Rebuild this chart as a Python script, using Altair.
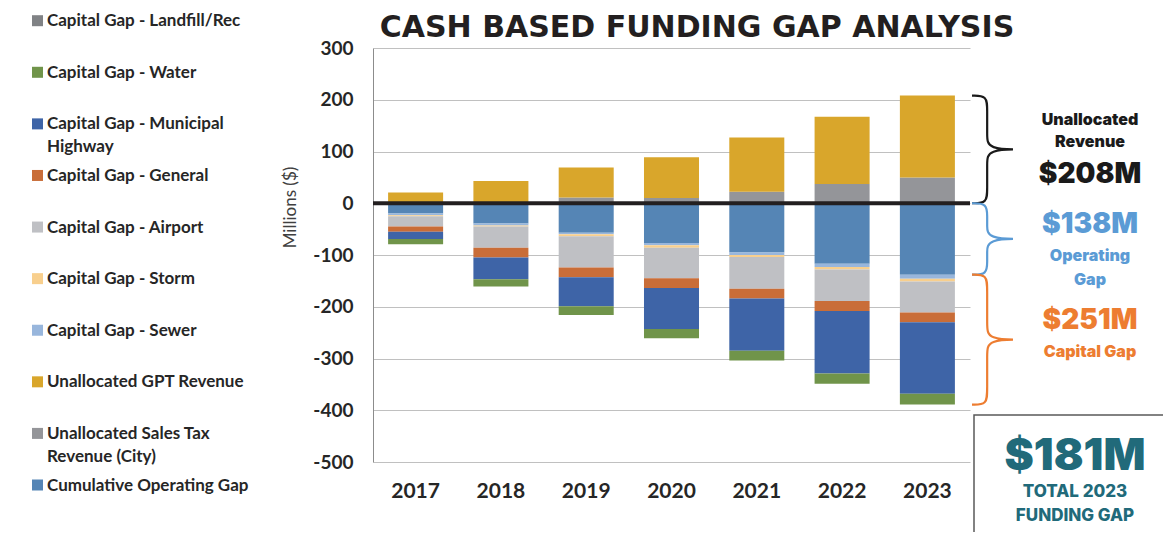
import altair as alt
import pandas as pd

years = ["2017", "2018", "2019", "2020", "2021", "2022", "2023"]

# Millions of dollars
sales_tax = [0, 0, 11, 10, 22, 37, 50]
gpt = [21, 43, 58, 79, 105, 130, 158]
operating = [-20, -39, -57, -77, -95, -117, -138]
sewer = [-3, -4, -3, -4, -5, -6, -8]
storm = [-2, -2, -4, -5, -4, -5, -5]
airport = [-20, -41, -60, -59, -61, -61, -60]
general = [-10, -19, -19, -19, -19, -19, -19]
highway = [-14, -42, -56, -79, -101, -121, -138]
water = [-10, -14, -17, -18, -19, -20, -21]
landfill = [0, 0, 0, 0, 0, 0, 0]

legend_order = [
    "Capital Gap - Landfill/Rec",
    "Capital Gap - Water",
    "Capital Gap - Municipal Highway",
    "Capital Gap - General",
    "Capital Gap - Airport",
    "Capital Gap - Storm",
    "Capital Gap - Sewer",
    "Unallocated GPT Revenue",
    "Unallocated Sales Tax Revenue (City)",
    "Cumulative Operating Gap",
]
legend_labels = [
    "Capital Gap - Landfill/Rec",
    "Capital Gap - Water",
    "Capital Gap - Municipal\nHighway",
    "Capital Gap - General",
    "Capital Gap - Airport",
    "Capital Gap - Storm",
    "Capital Gap - Sewer",
    "Unallocated GPT Revenue",
    "Unallocated Sales Tax\nRevenue (City)",
    "Cumulative Operating Gap",
]
colors = ["#808285", "#70944a", "#3e64a7", "#c96d38", "#bfc0c4",
          "#f8cf8d", "#98b6dc", "#d9a62b", "#949599", "#5585b5"]

# stacking order: first = closest to zero
stack_series = [
    ("Unallocated Sales Tax Revenue (City)", sales_tax),
    ("Unallocated GPT Revenue", gpt),
    ("Cumulative Operating Gap", operating),
    ("Capital Gap - Sewer", sewer),
    ("Capital Gap - Storm", storm),
    ("Capital Gap - Airport", airport),
    ("Capital Gap - General", general),
    ("Capital Gap - Municipal Highway", highway),
    ("Capital Gap - Water", water),
    ("Capital Gap - Landfill/Rec", landfill),
]

rows = []
for o, (name, vals) in enumerate(stack_series):
    for y, v in zip(years, vals):
        rows.append({"year": y, "series": name, "value": v, "ord": o})
df = pd.DataFrame(rows)

# totals for 2023 annotations
rev23 = sales_tax[-1] + gpt[-1]
op23 = -operating[-1]
cap23 = -(sewer[-1] + storm[-1] + airport[-1] + general[-1] + highway[-1] + water[-1] + landfill[-1])
net23 = op23 + cap23 - rev23

yscale = alt.Scale(domain=[-500, 300], nice=False)
cscale = alt.Scale(domain=legend_order, range=colors)
yaxis = alt.Axis(values=list(range(-500, 301, 100)), title="Millions ($)",
                 labelExpr="datum.value < 0 ? '-' + abs(datum.value) : '' + datum.value",
                 titleFont="Lato", titleFontWeight="normal", titleFontSize=17,
                 titleColor="#404040", titleX=-83, titleY=159, titleBaseline="middle",
                 labelFont="Lato", labelFontWeight="bold", labelFontSize=19,
                 labelColor="#262626", labelPadding=20, ticks=False,
                 domainColor="#8c8c8c", gridColor="#c0c0c0")

bars = alt.Chart(df).mark_bar().encode(
    x=alt.X("year:O", scale=alt.Scale(paddingInner=0.355, paddingOuter=0.177),
            axis=alt.Axis(title=None, labelAngle=0, labelFont="Lato", labelFontWeight="bold",
                          labelFontSize=21, labelColor="#262626", labelPadding=18,
                          domain=False, ticks=False)),
    y=alt.Y("value:Q", stack="zero", scale=yscale, axis=yaxis),
    color=alt.Color("series:N", scale=cscale, legend=None),
    order=alt.Order("ord:Q"),
)

zero = alt.Chart(pd.DataFrame({"value": [0]})).mark_rule(color="#231f20", strokeWidth=4).encode(
    y=alt.Y("value:Q", scale=yscale, axis=yaxis)
)


def brace_points(top, bottom, r=27, s=0.37, c=1.315):
    m = (top + bottom) / 2
    pts = [(0, top), (s, top), (s, top - r), (s, m + r), (s, m), (c, m),
           (s, m), (s, m - r), (s, bottom + r), (s, bottom), (0, bottom)]
    return pd.DataFrame({"bx": [p[0] for p in pts], "value": [p[1] for p in pts],
                         "i": list(range(len(pts)))})


brace_specs = [(rev23, 0, "#1a1a1a"), (0, -op23, "#5b9bd5"), (-op23, -(op23 + cap23), "#ed7d31")]
braces = []
for top, bottom, col in brace_specs:
    braces.append(
        alt.Chart(brace_points(top, bottom)).mark_line(color=col, strokeWidth=2.2, interpolate="basis").encode(
            x=alt.X("bx:Q", scale=alt.Scale(domain=[0, 1], range=[599, 640]), axis=None),
            y=alt.Y("value:Q", scale=yscale, axis=yaxis),
            order=alt.Order("i:Q"),
        )
    )

inner = alt.layer(bars, zero, *braces).resolve_scale(x="independent")

ldf = pd.DataFrame({"series": legend_order, "label": legend_labels})
lscale = alt.Scale(type="point", domain=legend_order, range=[-27.3, 437], padding=0)
leg_sq = alt.Chart(ldf).mark_square(size=121, opacity=1).encode(
    x=alt.value(-335.5),
    y=alt.Y("series:N", scale=lscale, axis=None),
    color=alt.Color("series:N", scale=cscale, legend=None),
)
leg_txt = alt.Chart(ldf).mark_text(align="left", baseline="alphabetic", dy=5.5, lineBreak="\n",
                                   lineHeight=23, font="Lato", fontWeight="bold", fontSize=17,
                                   color="#262626").encode(
    x=alt.value(-326),
    y=alt.Y("series:N", scale=lscale, axis=None),
    text="label:N",
)


def note(text, x, y, size, color, weight=900, font="Inter", baseline="middle"):
    return alt.Chart(pd.DataFrame({"t": [text]})).mark_text(
        font=font, fontSize=size, fontWeight=weight, color=color, align="center", baseline=baseline
    ).encode(text="t:N", x=alt.value(x), y=alt.value(y))


box = alt.Chart(pd.DataFrame({"a": [0]})).mark_rect(fill="white", stroke="#595959", strokeWidth=1.5).encode(
    x=alt.value(601), x2=alt.value(820), y=alt.value(367), y2=alt.value(600)
)

notes = [
    note("CASH BASED FUNDING GAP ANALYSIS", 324, -11.3, 30, "#231f20", "bold", font="DejaVu Sans",
         baseline="alphabetic"),
    note("Unallocated", 717, 72, 16, "#1a1a1a"),
    note("Revenue", 717, 94, 16, "#1a1a1a"),
    note(f"${rev23}M", 717, 127, 28, "#1a1a1a"),
    note(f"${op23}M", 717, 177, 28, "#5b9bd5"),
    note("Operating", 717, 208, 16, "#5b9bd5"),
    note("Gap", 717, 232, 16, "#5b9bd5"),
    note(f"${cap23}M", 717, 273, 28, "#ed7d31"),
    note("Capital Gap", 717, 304, 16, "#ed7d31"),
    note(f"${net23}M", 702, 409, 44, "#216a7a"),
    note("TOTAL 2023", 702, 444, 17, "#216a7a", 800),
    note("FUNDING GAP", 702, 468, 17, "#216a7a", 800),
]

chart = alt.layer(inner, leg_sq, leg_txt, box, *notes).resolve_scale(
    x="independent", y="independent"
).properties(
    width=597, height=414,
    autosize=alt.AutoSizeParams(type="none"),
    padding={"left": 365, "top": 40, "right": 193, "bottom": 70},
).configure_view(stroke=None)

chart.save("out.html", embed_options={"renderer": "svg", "actions": False})
